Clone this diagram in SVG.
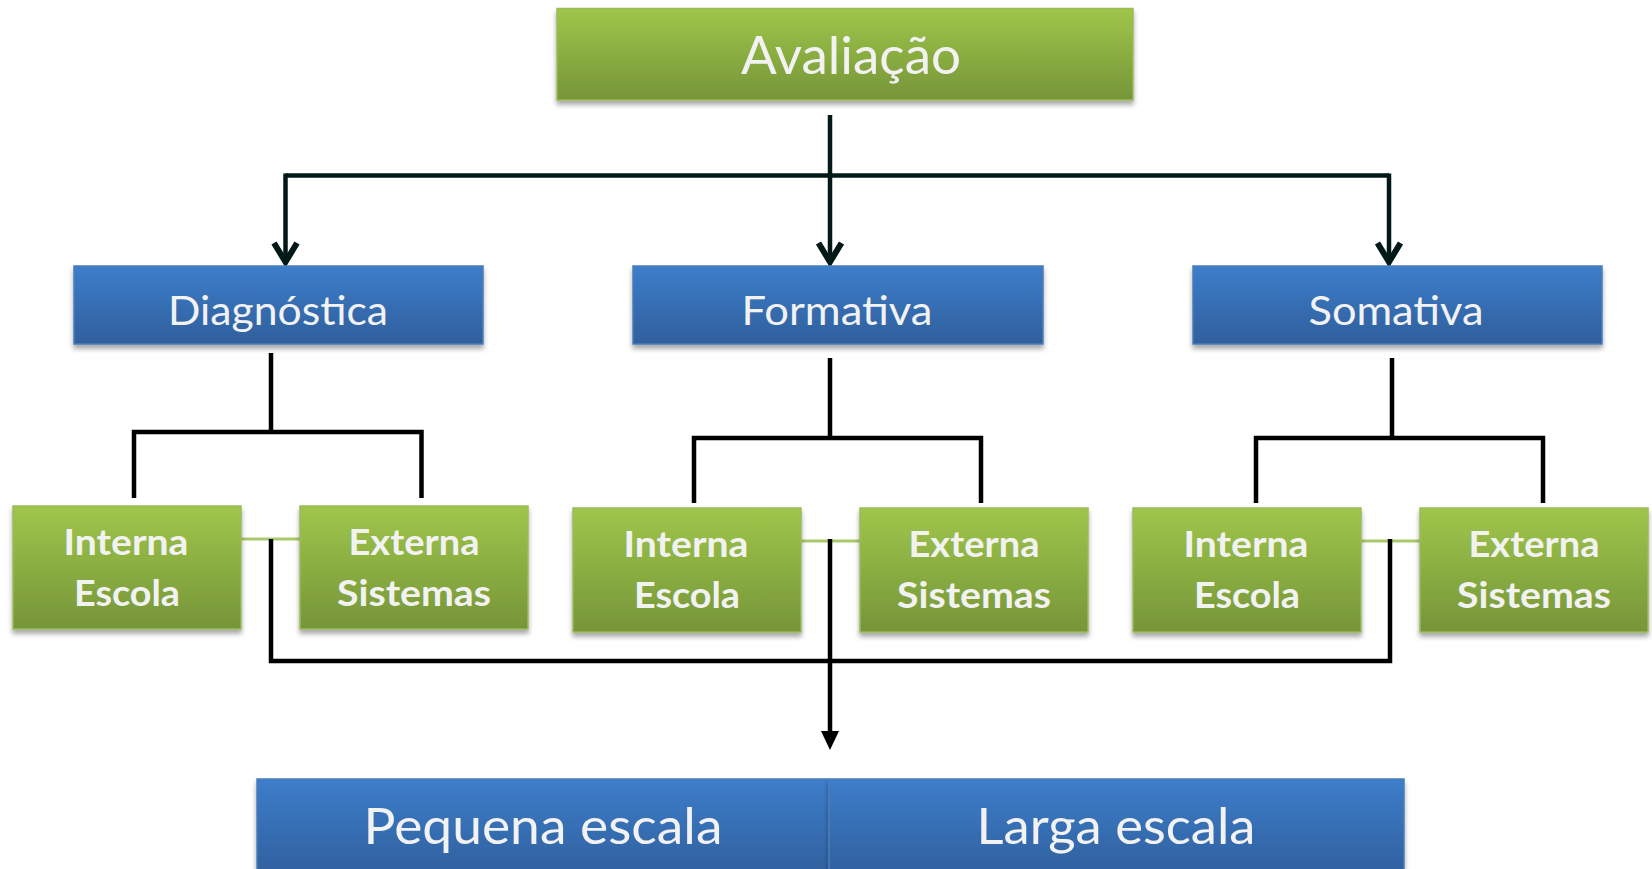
<svg xmlns="http://www.w3.org/2000/svg" width="1652" height="869" viewBox="0 0 1652 869">
<style>
  .g { fill: url(#gGreen); stroke: #9bbb59; stroke-width: 1.5; filter: url(#sh); }
  .b { fill: url(#gBlue); stroke: #4a7ebb; stroke-width: 1.5; filter: url(#sh); }
  .t { fill: #f2f2f2; font-family: Lato, "Open Sans", sans-serif; text-anchor: middle; }
  .tb { fill: #f2f2f2; font-family: Lato, "Open Sans", sans-serif; font-weight: bold; font-size: 36px; text-anchor: middle; }
  .dk { fill: none; stroke: #021a17; stroke-width: 4.5; }
  .ah { fill: none; stroke: #021a17; stroke-width: 6; stroke-linejoin: miter; }
  .bk { fill: none; stroke: #000000; stroke-width: 4.5; }
  .lg { fill: none; stroke: #a9c96c; stroke-width: 3; }
</style>
<defs>
  <linearGradient id="gGreen" x1="0" y1="0" x2="0" y2="1">
    <stop offset="0" stop-color="#9fc64a"/>
    <stop offset="1" stop-color="#769539"/>
  </linearGradient>
  <linearGradient id="gBlue" x1="0" y1="0" x2="0" y2="1">
    <stop offset="0" stop-color="#3d7dca"/>
    <stop offset="1" stop-color="#2f5f9c"/>
  </linearGradient>
  <filter id="sh" x="-5%" y="-10%" width="110%" height="130%">
    <feDropShadow dx="0" dy="4" stdDeviation="2.5" flood-color="#000" flood-opacity="0.35"/>
  </filter>
</defs>
<rect width="1652" height="869" fill="#ffffff"/>

<g id="connectors">
  <!-- top tree -->
  <path class="dk" d="M830 115 V262"/>
  <path class="dk" d="M285.5 175.5 H1389"/>
  <path class="dk" d="M285.5 173.5 V262"/>
  <path class="dk" d="M1389 173.5 V262"/>
  <path class="ah" d="M274 243 L285.5 262 L297 243"/>
  <path class="ah" d="M818.5 243 L830 262 L841.5 243"/>
  <path class="ah" d="M1377.5 243 L1389 262 L1400.5 243"/>
  <!-- brackets -->
  <path class="bk" d="M271 353 V432"/>
  <path class="bk" d="M134 498 V432 H421.5 V498"/>
  <path class="bk" d="M830 358 V438"/>
  <path class="bk" d="M694 503 V438 H981 V503"/>
  <path class="bk" d="M1392 358 V438"/>
  <path class="bk" d="M1256 503 V438 H1543 V503"/>
  <!-- green links -->
  <path class="lg" d="M241 539 H300"/>
  <path class="lg" d="M801 541 H860"/>
  <path class="lg" d="M1361 541 H1420"/>
  <!-- bottom bracket -->
  <path class="bk" d="M271 539 V661 H1390 V539"/>
  <path class="bk" d="M830 539 V734"/>
  <polygon points="821,731 839,731 830,750" fill="#000000"/>
</g>

<g id="avaliacao">
  <rect class="g" x="557" y="8.5" width="576" height="91.5"/>
  <text class="t" x="851" y="74" font-size="52" textLength="220" lengthAdjust="spacingAndGlyphs">Avaliação</text>
</g>

<g id="diagnostica">
  <rect class="b" x="74" y="266" width="409" height="78"/>
  <text class="t" x="278" y="325" font-size="40" textLength="220" lengthAdjust="spacingAndGlyphs">Diagnóstica</text>
</g>
<g id="formativa">
  <rect class="b" x="633" y="266" width="410" height="78"/>
  <text class="t" x="837" y="325" font-size="40" textLength="191" lengthAdjust="spacingAndGlyphs">Formativa</text>
</g>
<g id="somativa">
  <rect class="b" x="1193" y="266" width="409" height="78"/>
  <text class="t" x="1396" y="325" font-size="40" textLength="175" lengthAdjust="spacingAndGlyphs">Somativa</text>
</g>

<g id="diag-interna">
  <rect class="g" x="13" y="506" width="228" height="123"/>
  <text class="tb" x="126" y="555" textLength="125" lengthAdjust="spacingAndGlyphs">Interna</text>
  <text class="tb" x="127" y="606" textLength="106" lengthAdjust="spacingAndGlyphs">Escola</text>
</g>
<g id="diag-externa">
  <rect class="g" x="300" y="506" width="228" height="123"/>
  <text class="tb" x="414" y="555" textLength="131" lengthAdjust="spacingAndGlyphs">Externa</text>
  <text class="tb" x="414" y="606" textLength="154" lengthAdjust="spacingAndGlyphs">Sistemas</text>
</g>
<g id="form-interna">
  <rect class="g" x="573" y="508" width="228" height="124"/>
  <text class="tb" x="686" y="557" textLength="125" lengthAdjust="spacingAndGlyphs">Interna</text>
  <text class="tb" x="687" y="608" textLength="106" lengthAdjust="spacingAndGlyphs">Escola</text>
</g>
<g id="form-externa">
  <rect class="g" x="860" y="508" width="228" height="124"/>
  <text class="tb" x="974" y="557" textLength="131" lengthAdjust="spacingAndGlyphs">Externa</text>
  <text class="tb" x="974" y="608" textLength="154" lengthAdjust="spacingAndGlyphs">Sistemas</text>
</g>
<g id="soma-interna">
  <rect class="g" x="1133" y="508" width="228" height="124"/>
  <text class="tb" x="1246" y="557" textLength="125" lengthAdjust="spacingAndGlyphs">Interna</text>
  <text class="tb" x="1247" y="608" textLength="106" lengthAdjust="spacingAndGlyphs">Escola</text>
</g>
<g id="soma-externa">
  <rect class="g" x="1420" y="508" width="228" height="124"/>
  <text class="tb" x="1534" y="557" textLength="131" lengthAdjust="spacingAndGlyphs">Externa</text>
  <text class="tb" x="1534" y="608" textLength="154" lengthAdjust="spacingAndGlyphs">Sistemas</text>
</g>

<g id="pequena-escala">
  <rect class="b" x="257" y="779" width="572" height="100"/>
  <text class="t" x="543" y="844" font-size="50" textLength="359" lengthAdjust="spacingAndGlyphs">Pequena escala</text>
</g>
<g id="larga-escala">
  <rect class="b" x="829" y="779" width="575" height="100"/>
  <text class="t" x="1116" y="844" font-size="50" textLength="279" lengthAdjust="spacingAndGlyphs">Larga escala</text>
</g>
</svg>
